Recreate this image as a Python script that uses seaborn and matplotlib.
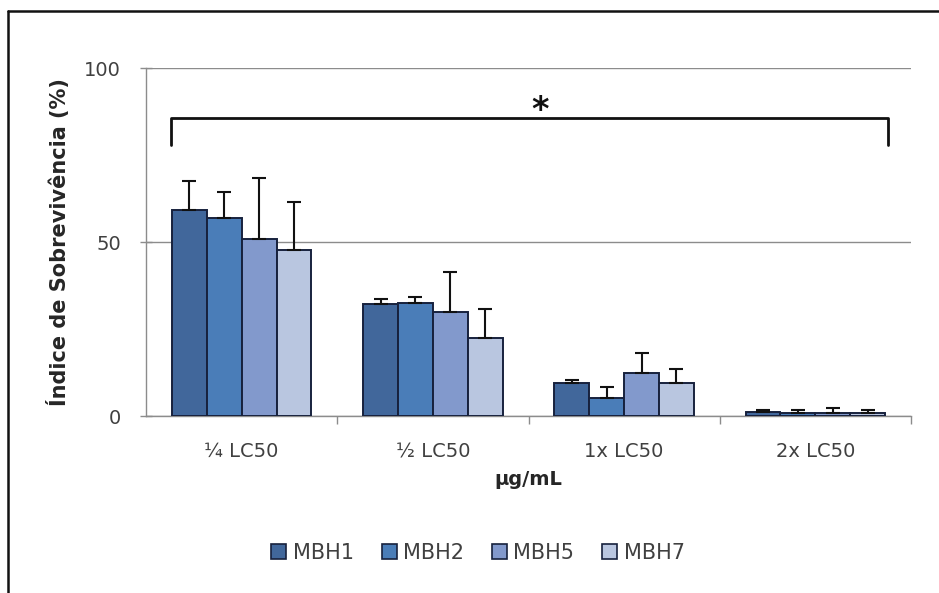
import matplotlib
matplotlib.use("Agg")
import matplotlib.pyplot as plt
from matplotlib.lines import Line2D
from matplotlib.patches import Patch
import numpy as np
import pandas as pd
import seaborn as sns

# Survival index (%) per concentration and strain, with upper error bars
doses = ["¼ LC50", "½ LC50", "1x LC50", "2x LC50"]
strains = ["MBH1", "MBH2", "MBH5", "MBH7"]
mbh1 = [59.2, 32.1, 9.6, 1.2]
mbh2 = [56.8, 32.6, 5.1, 0.8]
mbh5 = [50.8, 29.8, 12.3, 0.8]
mbh7 = [47.7, 22.5, 9.6, 0.8]
err1 = [8.4, 1.6, 0.7, 0.5]
err2 = [7.6, 1.6, 3.3, 1.0]
err5 = [17.5, 11.6, 5.8, 1.6]
err7 = [13.9, 8.2, 3.9, 1.0]
palette = ["#41679b", "#4a7db8", "#8299cc", "#b9c6e0"]

values = [mbh1, mbh2, mbh5, mbh7]
errors = [err1, err2, err5, err7]

df = pd.DataFrame({
    "dose": [d for _ in strains for d in doses],
    "strain": [s for s in strains for _ in doses],
    "value": [v for vals in values for v in vals],
})

sns.set_theme(style="white")
plt.rcParams["font.family"] = ["DejaVu Sans"]

fig = plt.figure(figsize=(9.39, 5.93), dpi=100)
ax = fig.add_axes([146 / 939, 1 - 416 / 593, (911 - 146) / 939, (416 - 68) / 593])

sns.barplot(data=df, x="dose", y="value", hue="strain", order=doses,
            hue_order=strains, palette=palette, width=0.73, errorbar=None,
            edgecolor="#17213d", linewidth=1.4, saturation=1, legend=False,
            ax=ax, zorder=3)

# Upper-only error bars on each bar
for cont, err in zip(ax.containers, errors):
    xs = [p.get_x() + p.get_width() / 2 for p in cont.patches]
    hs = [p.get_height() for p in cont.patches]
    ax.errorbar(xs, hs, yerr=[np.zeros(len(err)), err], fmt="none",
                ecolor="#111111", elinewidth=1.5, capsize=4.7, capthick=1.5,
                zorder=4)

ax.set_ylim(0, 100)
ax.set_xlim(-0.5, 3.5)
ax.set_yticks([0, 50, 100])
ax.yaxis.grid(True, color="#8c8c8c", linewidth=1.0, zorder=0)
ax.set_axisbelow(True)
for side in ["top", "right"]:
    ax.spines[side].set_visible(False)
for side in ["left", "bottom"]:
    ax.spines[side].set_color("#8c8c8c")
    ax.spines[side].set_linewidth(1.0)

ax.tick_params(axis="y", which="major", direction="inout", length=8,
               width=1.0, color="#8c8c8c", labelsize=14, labelcolor="#404040",
               pad=14, left=True)
ax.set_xticks([0, 1, 2, 3])
ax.set_xticklabels(doses)
ax.tick_params(axis="x", which="major", length=0, labelsize=14,
               labelcolor="#404040", pad=19)
ax.set_xticks([0.5, 1.5, 2.5, 3.5], minor=True)
ax.tick_params(axis="x", which="minor", direction="out", length=6,
               width=1.0, color="#8c8c8c", bottom=True)

ax.set_xlabel("µg/mL", fontsize=14, fontweight="bold", color="#262626",
              labelpad=6)
ax.set_ylabel("Índice de Sobrevivência (%)", fontsize=15, fontweight="bold",
              color="#262626", labelpad=10)

# Significance bracket spanning all concentrations
bx0, bx1, by, bdrop = -0.37, 3.38, 85.5, 7.5
ax.plot([bx0, bx0, bx1, bx1], [by - bdrop, by, by, by - bdrop],
        color="#111111", linewidth=2.0, clip_on=False, zorder=5)
ax.text(1.56, 85.0, "*", ha="center", va="baseline",
        fontsize=24, fontweight="bold", color="#111111")

handles = [Patch(facecolor=c, edgecolor="#17213d", linewidth=1.2, label=s)
           for c, s in zip(palette, strains)]
fig.legend(handles=handles, loc="center", bbox_to_anchor=(478 / 939, 1 - 553 / 593),
           ncol=4, frameon=False, fontsize=15, handlelength=0.72,
           handleheight=0.72, handletextpad=0.3, columnspacing=1.35,
           labelcolor="#404040")

# Frame lines along the top and left edge of the figure
fig.add_artist(Line2D([8 / 939, 1.0], [1 - 11 / 593, 1 - 11 / 593],
                      color="#111111", linewidth=1.8, transform=fig.transFigure))
fig.add_artist(Line2D([8 / 939, 8 / 939], [0.0, 1 - 11 / 593],
                      color="#111111", linewidth=1.8, transform=fig.transFigure))

fig.savefig("out.png", dpi=100, facecolor="white")
